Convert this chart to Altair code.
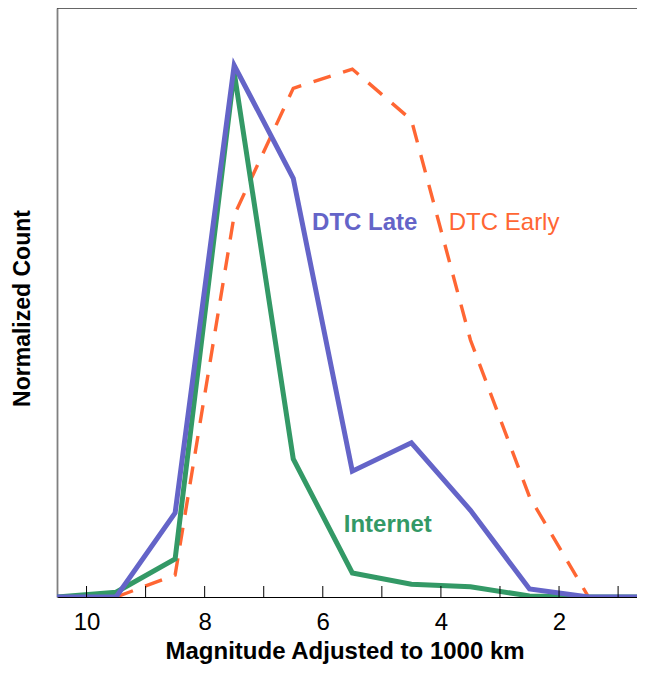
import altair as alt
import pandas as pd

# ---- data ----
magnitude = [10.5, 9.5, 8.5, 7.5, 6.5, 5.5, 4.5, 3.5, 2.5, 1.5, 0.5]
dtc_late = [0, 0, 0.157, 0.993, 0.782, 0.235, 0.288, 0.162, 0.015, 0, 0]
internet = [0, 0.009, 0.071, 0.980, 0.258, 0.045, 0.024, 0.019, 0.002, 0, 0]
early_magnitude = [9.5, 8.5, 7.5, 6.5, 5.5, 4.5, 3.5, 2.5, 1.5]
dtc_early = [0, 0.041, 0.713, 0.950, 0.986, 0.891, 0.480, 0.187, 0]

tick_values = [10, 9, 8, 7, 6, 5, 4, 3, 2, 1]
label_values = [10, 8, 6, 4, 2]

series_names = ["DTC Early", "Internet", "DTC Late"]
series_colors = ["#FF6633", "#339966", "#6464C8"]

label_text = ["DTC Late", "DTC Early", "Internet"]
label_x = [5.29, 2.93, 4.90]
label_y = [0.685, 0.685, 0.121]
label_weight = ["bold", "normal", "bold"]

# ---- tables ----
rows = []
for m, v in zip(early_magnitude, dtc_early):
    rows.append({"mag": m, "count": v, "series": "DTC Early"})
for m, v in zip(magnitude, internet):
    rows.append({"mag": m, "count": v, "series": "Internet"})
for m, v in zip(magnitude, dtc_late):
    rows.append({"mag": m, "count": v, "series": "DTC Late"})
lines_df = pd.DataFrame(rows)
ticks_df = pd.DataFrame({"mag": tick_values, "count": [0] * len(tick_values)})
labels_df = pd.DataFrame({"text": label_text, "mag": label_x, "count": label_y,
                          "series": label_text, "weight": label_weight})

W, H = 580, 589
FONT = "Liberation Sans, Arial, Helvetica, sans-serif"
X_TITLE = "Magnitude Adjusted to 1000 km"
Y_TITLE = "Normalized Count"

xscale = alt.Scale(domain=[10.5, 0.68], nice=False, zero=False)
yscale = alt.Scale(domain=[0, 1.1], nice=False, zero=True)
cscale = alt.Scale(domain=series_names, range=series_colors)

x_axis = alt.Axis(values=label_values, tickSize=0, labelPadding=13, labelFontSize=24,
                  labelFont=FONT, labelColor="#000", labelFlush=False,
                  domainColor="#000", domainWidth=1.2, grid=False,
                  titleFont=FONT, titleFontSize=24, titleFontWeight="bold",
                  titleColor="#000", titleX=108, titleY=61, titleAlign="left",
                  titleBaseline="alphabetic")
y_axis = alt.Axis(ticks=False, labels=False, grid=False, domainColor="#808080",
                  domainWidth=1.8, titleFont=FONT, titleFontSize=23,
                  titleFontWeight="bold", titleColor="#000", titleAngle=270,
                  titleX=-28, titleY=300, titleAlign="center",
                  titleBaseline="alphabetic")

X = alt.X("mag:Q", scale=xscale, axis=x_axis, title=X_TITLE)
Y = alt.Y("count:Q", scale=yscale, axis=y_axis, title=Y_TITLE)


def line_layer(name, width, dash=None):
    kw = dict(strokeWidth=width, clip=True)
    if dash:
        kw["strokeDash"] = dash
    return alt.Chart(lines_df).transform_filter(
        alt.datum.series == name
    ).mark_line(**kw).encode(
        x=X, y=Y,
        color=alt.Color("series:N", scale=cscale, legend=None),
    )


early = line_layer("DTC Early", 3.4, [18, 13])
inet = line_layer("Internet", 5)
late = line_layer("DTC Late", 5)

# inward ticks on the bottom axis
tick_layer = alt.Chart(ticks_df).mark_rule(color="#000", strokeWidth=1).encode(
    x=X,
    y=alt.value(H - 11),
    y2=alt.value(H),
)

# thin frame line along the top of the plot
top_line = alt.Chart(ticks_df.head(1)).mark_rule(color="#333333", strokeWidth=1.3).encode(
    x=alt.value(0), x2=alt.value(W), y=alt.value(0)
)


def text_layer(weight):
    return alt.Chart(labels_df).transform_filter(
        alt.datum.weight == weight
    ).mark_text(font=FONT, fontSize=24, fontWeight=weight, align="center",
                baseline="alphabetic").encode(
        x=X, y=Y,
        text="text:N",
        color=alt.Color("series:N", scale=cscale, legend=None),
    )


chart = alt.layer(
    early, inet, late, tick_layer, top_line, text_layer("bold"), text_layer("normal")
).properties(
    width=W, height=H,
    background="white",
    view=alt.ViewBackground(stroke="transparent", strokeWidth=0),
    autosize=alt.AutoSizeParams(type="none"),
    padding={"left": 49, "top": 0, "right": 0, "bottom": 70},
).configure_view(stroke="transparent", strokeWidth=0)

chart.save("out.html", embed_options={"renderer": "svg", "actions": False})
